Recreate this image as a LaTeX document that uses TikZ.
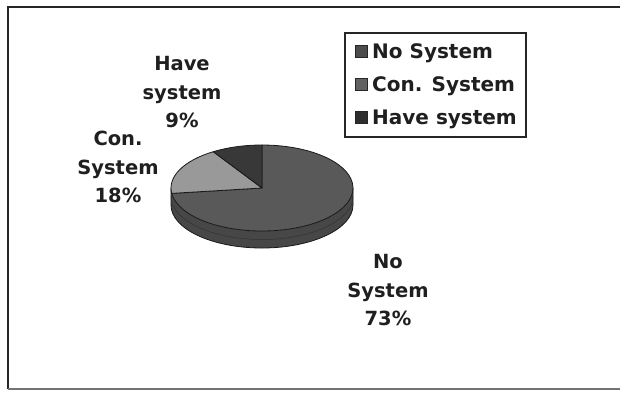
\documentclass[tikz,border=0pt]{standalone}
\usepackage{fontspec}
\setmainfont{DejaVu Sans}
\begin{document}
\begin{tikzpicture}[x=1pt,y=1pt,
  lbl/.style={align=center,font=\bfseries\fontsize{19.5}{28.5}\selectfont,text=black!88,inner sep=0pt},
  legtext/.style={anchor=west,font=\bfseries\fontsize{20}{22}\selectfont,text=black!88,inner sep=0pt},
  legsq/.style={minimum size=12pt,inner sep=0pt,draw=black!85,line width=0.6pt},
  slice/.style={draw=black!90,line width=0.8pt,line join=round}]
\useasboundingbox (0,0) rectangle (620,-392);
\fill[white] (0,0) rectangle (620,-392);
% outer frame (open on the right)
\draw[black!85,line width=1.8pt] (620,-7) -- (8,-7) -- (8,-389);
\draw[black!55,line width=1.4pt] (8,-389) -- (620,-389);
% pie
\coordinate (C) at (262,-188);
\def\rx{91}\def\ry{43}\def\dp{17}
% side
\fill[black!72] (C) ++(-\rx,0) arc[start angle=180,end angle=360,x radius=\rx,y radius=\ry]
  -- ++(0,-\dp) arc[start angle=360,end angle=180,x radius=\rx,y radius=\ry] -- cycle;
\draw[black!90,line width=0.8pt] (C) ++(-\rx,0) -- ++(0,-\dp)
  arc[start angle=180,end angle=360,x radius=\rx,y radius=\ry] -- ++(0,\dp);
\draw[black!80,line width=0.5pt] (C) ++(-\rx,-\dp/2) arc[start angle=180,end angle=360,x radius=\rx,y radius=\ry];
% top face slices
\filldraw[slice,fill=black!65] (C) -- ++(187.2:\rx pt and \ry pt) arc[start angle=187.2,end angle=450,x radius=\rx,y radius=\ry] -- cycle;
\filldraw[slice,fill=black!40] (C) -- ++(122.4:\rx pt and \ry pt) arc[start angle=122.4,end angle=187.2,x radius=\rx,y radius=\ry] -- cycle;
\filldraw[slice,fill=black!78] (C) -- ++(90:\rx pt and \ry pt) arc[start angle=90,end angle=122.4,x radius=\rx,y radius=\ry] -- cycle;
% labels
\node[lbl] (lhave) at (182,-92) {Have\\system\\9\%};
\node[lbl] (lcon) at (118,-167) {Con.\\System\\18\%};
\node[lbl] (lno) at (388,-290) {No\\System\\73\%};
% legend
\draw[black!85,line width=1.5pt] (345,-33) rectangle (526,-137);
\node[legsq,fill=black!70] (s1) at (361,-51) {};
\node[legsq,fill=black!62] (s2) at (361,-84) {};
\node[legsq,fill=black!82] (s3) at (361,-117) {};
\node[legtext] (t1) at (372,-51) {No System};
\node[legtext] (t2) at (372,-84) {Con. System};
\node[legtext] (t3) at (372,-117) {Have system};
\end{tikzpicture}
\end{document}
